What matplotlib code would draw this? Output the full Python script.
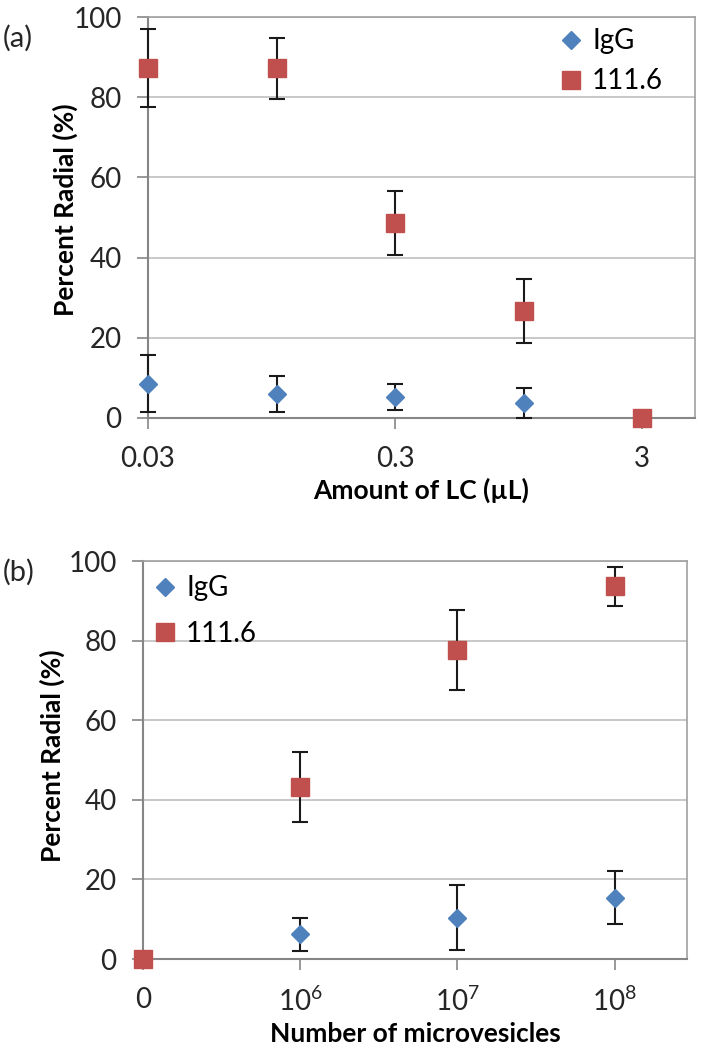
import matplotlib
matplotlib.use('Agg')
import matplotlib.pyplot as plt
from matplotlib.ticker import FixedLocator, FixedFormatter, NullLocator

plt.rcParams['font.family'] = ['Lato', 'DejaVu Sans']
plt.rcParams['mathtext.fontset'] = 'custom'
plt.rcParams['mathtext.rm'] = 'Lato'

# panel (a): amount of liquid crystal
lc_amount = [0.03, 0.1, 0.3, 1, 3]
igg_a = [8.6, 6.0, 5.3, 3.8, 0.0]
igg_a_err = [7.2, 4.5, 3.3, 3.7, 0.0]
ab_a = [87.3, 87.2, 48.6, 26.6, 0.0]
ab_a_err = [9.7, 7.6, 8.0, 8.0, 0.0]
a_ticks = [0.03, 0.3, 3]
a_ticklabels = ['0.03', '0.3', '3']

# panel (b): number of microvesicles (category positions)
mv_pos = [0, 1, 2, 3]
mv_labels = ['0', r'$\mathregular{10^6}$', r'$\mathregular{10^7}$', r'$\mathregular{10^8}$']
igg_b = [0.0, 6.2, 10.4, 15.4]
igg_b_err = [0.0, 4.2, 8.2, 6.6]
ab_b = [0.0, 43.1, 77.6, 93.6]
ab_b_err = [0.0, 8.8, 10.0, 5.0]

BLUE = '#4F81BD'
RED = '#C0504D'
GRID = '#BFBFBF'
AXIS = '#868686'
FS = 20

fig = plt.figure(figsize=(7.02, 10.5), dpi=100)
ax1 = fig.add_axes([148/702, 1-418/1050, 547/702, 401/1050])
ax2 = fig.add_axes([143/702, 1-959/1050, 544/702, 398/1050])


def draw(ax, x, igg, igg_err, ab, ab_err):
    for y, e, c, m, ms, lab in [(igg, igg_err, BLUE, 'D', 9.5, 'IgG'),
                                 (ab, ab_err, RED, 's', 13.5, '111.6')]:
        eb = ax.errorbar(x, y, yerr=e, fmt='none', ecolor='#1a1a1a',
                         elinewidth=1.5, capsize=6, capthick=1.5, zorder=3)
        for art in eb.lines[1] + eb.lines[2]:
            art.set_clip_on(False)
        ax.plot(x, y, linestyle='none', marker=m, ms=ms, color=c,
                label=lab, clip_on=False, zorder=4)
    ax.set_ylim(0, 100)
    ax.set_yticks([0, 20, 40, 60, 80, 100])
    ax.yaxis.grid(True, color=GRID, linewidth=1.2)
    ax.set_axisbelow(True)
    for s in ['top', 'right']:
        ax.spines[s].set_color('#A0A0A0')
        ax.spines[s].set_linewidth(1.2)
    for s in ['left', 'bottom']:
        ax.spines[s].set_color(AXIS)
        ax.spines[s].set_linewidth(1.5)
    ax.tick_params(axis='both', direction='out', length=8, width=1.2,
                   color=AXIS, labelsize=FS, labelcolor='#262626')
    ax.tick_params(axis='y', pad=11)
    ax.tick_params(axis='x', pad=12)
    ax.set_ylabel('Percent Radial (%)', fontsize=FS - 1, fontweight='bold')


draw(ax1, lc_amount, igg_a, igg_a_err, ab_a, ab_a_err)
ax1.yaxis.set_label_coords(-0.128, 0.52)
ax1.set_xscale('log')
ax1.set_xlim(0.03, 0.03 * 10 ** 2.215)
ax1.xaxis.set_major_locator(FixedLocator(a_ticks))
ax1.xaxis.set_major_formatter(FixedFormatter(a_ticklabels))
ax1.xaxis.set_minor_locator(NullLocator())
ax1.set_xlabel('Amount of LC (\u00b5L)', fontsize=FS - 1, fontweight='bold',
               labelpad=4)
ax1.legend(loc='upper left', bbox_to_anchor=(0.70, 1.02), frameon=False,
           fontsize=FS, handletextpad=0.0, borderaxespad=0.3,
           labelspacing=0.5, handlelength=1.5)

draw(ax2, mv_pos, igg_b, igg_b_err, ab_b, ab_b_err)
ax2.yaxis.set_label_coords(-0.143, 0.51)
ax2.set_xlim(0, 3.46)
ax2.set_xticks(mv_pos)
ax2.set_xticklabels(mv_labels)
ax2.set_xlabel('Number of microvesicles', fontsize=FS - 1, fontweight='bold',
               labelpad=4)
ax2.legend(loc='upper left', bbox_to_anchor=(-0.033, 1.0125), frameon=False,
           fontsize=FS, handletextpad=0.0, borderaxespad=0.3,
           labelspacing=0.7, handlelength=1.5)

fig.text(3/702, 1-38/1050, '(a)', fontsize=21, va='center', color='#262626')
fig.text(3/702, 1-572/1050, '(b)', fontsize=21, va='center', color='#262626')

fig.savefig('out.png', dpi=100)
